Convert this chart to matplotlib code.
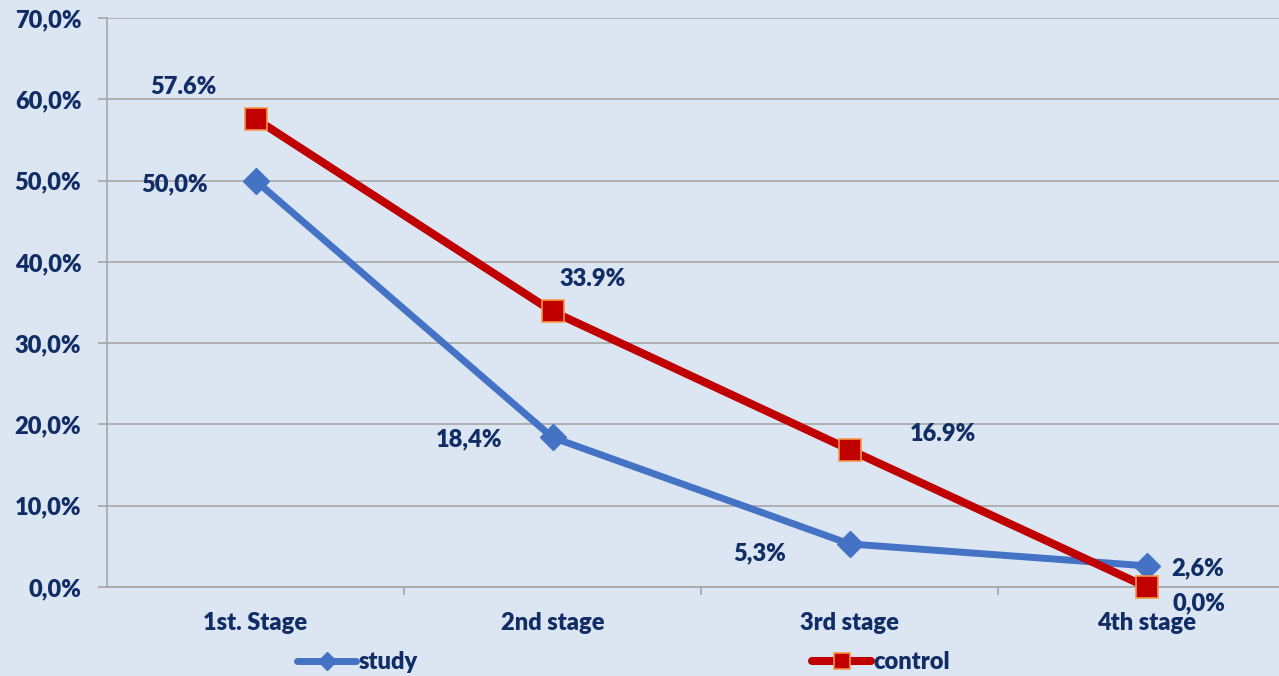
import matplotlib
matplotlib.use("Agg")
import matplotlib.pyplot as plt
from matplotlib.lines import Line2D

categories = ["1st. Stage", "2nd stage", "3rd stage", "4th stage"]
study = [50.0, 18.4, 5.3, 2.6]
control = [57.6, 33.9, 16.9, 0.0]
study_labels = ["50,0%", "18,4%", "5,3%", "2,6%"]
control_labels = ["57.6%", "33.9%", "16.9%", "0,0%"]
yticks = [0, 10, 20, 30, 40, 50, 60, 70]
ytick_labels = ["0,0%", "10,0%", "20,0%", "30,0%", "40,0%", "50,0%", "60,0%", "70,0%"]

W, H = 1279, 676
BG = "#DCE6F2"
NAVY = "#112D66"
BLUE = "#4472C4"
RED = "#C00000"
FW = 'heavy'
FS = 17
plt.rcParams['font.family'] = ['Lato', 'DejaVu Sans']

fig = plt.figure(figsize=(W / 100, H / 100), dpi=100, facecolor=BG)
left, right, top, bottom = 107, 1295, 18, 587
ax = fig.add_axes([left / W, 1 - bottom / H, (right - left) / W, (bottom - top) / H])
ax.set_facecolor(BG)
x = list(range(len(categories)))
ax.set_xlim(-0.5, 3.5)
ax.set_ylim(0, 70)

ax.set_yticks(yticks)
ax.set_yticklabels(ytick_labels)
ax.yaxis.grid(True, color="#A6A6A6", lw=1.2)
ax.set_axisbelow(True)
ax.tick_params(axis='y', length=6.5, color="#A6A6A6", width=1.2, pad=12,
               labelsize=FS, labelcolor=NAVY)
for lab in ax.get_yticklabels():
    lab.set_fontweight(FW)

ax.set_xticks([0.5, 1.5, 2.5], minor=False)
ax.set_xticklabels([])
ax.tick_params(axis='x', which='major', length=6, color="#A6A6A6", width=1.2)
ax.set_xticks(x, minor=True)
ax.set_xticklabels(categories, minor=True)
ax.tick_params(axis='x', which='minor', length=0, pad=18, labelsize=FS, labelcolor=NAVY)
for lab in ax.get_xticklabels(minor=True):
    lab.set_fontweight(FW)

for s in ['top', 'right']:
    ax.spines[s].set_visible(False)
ax.spines['left'].set_color("#A6A6A6")
ax.spines['left'].set_linewidth(1.2)
ax.spines['bottom'].set_color("#A6A6A6")
ax.spines['bottom'].set_linewidth(1.2)

ax.plot(x, study, color=BLUE, lw=5, marker='D', ms=13, mfc=BLUE, mec=BLUE,
        solid_capstyle='round', zorder=3, clip_on=False)
ax.plot(x, control, color=RED, lw=5.8, marker='s', ms=16.5, mfc=RED, mec="#F79646",
        mew=1.2, zorder=4, clip_on=False)

study_off = [(-58, -3), (-60, -1), (-65, -7), (37, -1.5)]
control_off = [(-52, 23), (29, 23), (67, 11), (38, -11.5)]
for i in x:
    ax.annotate(study_labels[i], (x[i], study[i]), xytext=study_off[i], textcoords='offset points',
                ha='center', va='center', fontsize=FS, fontweight=FW, color=NAVY, zorder=5)
    ax.annotate(control_labels[i], (x[i], control[i]), xytext=control_off[i], textcoords='offset points',
                ha='center', va='center', fontsize=FS, fontweight=FW, color=NAVY, zorder=5)

# legend
h1 = Line2D([], [], color=BLUE, lw=5, marker='D', ms=9, mfc=BLUE, mec=BLUE, solid_capstyle='round')
h2 = Line2D([], [], color=RED, lw=5.8, marker='s', ms=11, mfc=RED, mec="#F79646", mew=1.2, solid_capstyle='round')
for h, lbl, x0 in [(h1, "study", 297), (h2, "control", 812)]:
    fig.legend([h], [lbl], loc='center left', bbox_to_anchor=(x0 / W, 1 - 662 / H), frameon=False,
               prop={'weight': FW, 'size': FS}, labelcolor=NAVY, handlelength=2.5,
               handletextpad=0.1, borderpad=0, borderaxespad=0)

fig.savefig("out.png", dpi=100, facecolor=BG)
